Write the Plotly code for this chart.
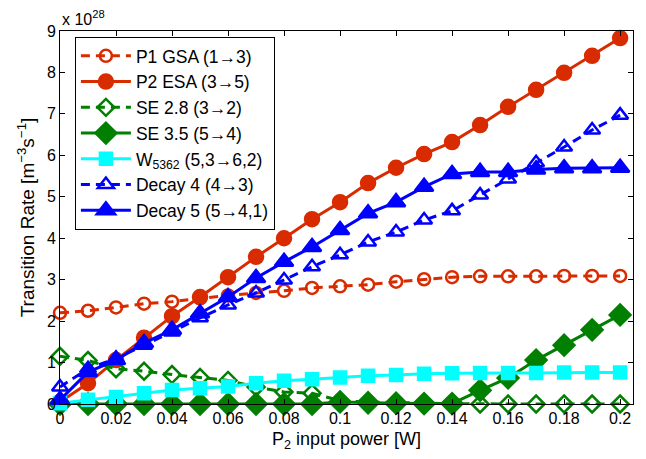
import plotly.graph_objects as go

x = [0, 0.01, 0.02, 0.03, 0.04, 0.05, 0.06, 0.07, 0.08, 0.09, 0.10,
     0.11, 0.12, 0.13, 0.14, 0.15, 0.16, 0.17, 0.18, 0.19, 0.20]

p1_gsa = [2.2, 2.25, 2.33, 2.42, 2.47, 2.55, 2.62, 2.68, 2.73, 2.8, 2.84,
          2.88, 2.95, 3.01, 3.06, 3.08, 3.08, 3.08, 3.09, 3.09, 3.09]
p2_esa = [0.05, 0.5, 1.06, 1.6, 2.12, 2.58, 3.06, 3.55, 4.0, 4.46, 4.87,
          5.33, 5.7, 6.03, 6.32, 6.73, 7.17, 7.58, 7.99, 8.4, 8.83]
se28 = [1.15, 1.05, 0.85, 0.79, 0.71, 0.64, 0.57, 0.41, 0.29, 0.26, 0.08,
        0.05, 0.03, 0.02, 0.01, 0.0, 0.0, 0.0, 0.0, 0.0, 0.0]
se35 = [0.0, 0.0, 0.0, 0.0, 0.0, 0.0, 0.0, 0.0, 0.0, 0.0, 0.05,
        0.03, 0.02, 0.01, 0.01, 0.33, 0.63, 1.06, 1.42, 1.79, 2.15]
w5362 = [0.02, 0.1, 0.17, 0.26, 0.34, 0.38, 0.42, 0.5, 0.56, 0.6, 0.64,
         0.68, 0.7, 0.73, 0.74, 0.75, 0.75, 0.75, 0.76, 0.76, 0.76]
decay4 = [0.41, 0.85, 1.1, 1.42, 1.74, 2.08, 2.39, 2.68, 2.99, 3.31, 3.6,
          3.91, 4.15, 4.44, 4.66, 5.04, 5.43, 5.82, 6.2, 6.61, 6.97]
decay5 = [0.1, 0.77, 1.06, 1.47, 1.79, 2.19, 2.58, 3.04, 3.43, 3.79, 4.2,
          4.6, 4.87, 5.24, 5.55, 5.6, 5.6, 5.66, 5.69, 5.69, 5.7]

RED = "#D92B00"
GREEN = "#007F00"
CYAN = "#00FFFF"
BLUE = "#0000FF"

series = [
    ("P1 GSA (1→3)", p1_gsa, RED, "dash", "circle-open", 12),
    ("P2 ESA (3→5)", p2_esa, RED, "solid", "circle", 14),
    ("SE 2.8 (3→2)", se28, GREEN, "dash", "diamond-open", 13),
    ("SE 3.5 (5→4)", se35, GREEN, "solid", "diamond", 16),
    ("W<sub>5362</sub> (5,3→6,2)", w5362, CYAN, "solid", "square", 12),
    ("Decay 4 (4→3)", decay4, BLUE, "dash", "triangle-up-open", 14),
    ("Decay 5 (5→4,1)", decay5, BLUE, "solid", "triangle-up", 16),
]

fig = go.Figure()
for name, y, color, dash, sym, size in series:
    fig.add_trace(go.Scatter(
        x=x, y=y, name=name, mode="lines+markers",
        line=dict(color=color, width=3, dash="9px,6px" if dash == "dash" else "solid"),
        marker=dict(symbol=sym, size=size, color=color,
                    line=dict(color=color, width=2.5)),
        cliponaxis=False,
    ))

font_family = "Liberation Sans, Arial, sans-serif"
fig.update_layout(
    width=646, height=459,
    margin=dict(l=60, r=13, t=31, b=55),
    paper_bgcolor="white", plot_bgcolor="white",
    font=dict(family=font_family, size=16, color="black"),
    showlegend=True,
    legend=dict(
        x=0.026, y=0.984, xanchor="left", yanchor="top",
        bordercolor="black", borderwidth=1, bgcolor="white",
        font=dict(size=17.5), itemwidth=50,
    ),
    xaxis=dict(
        range=[0, 0.2046], tickmode="array",
        tickvals=[0, 0.02, 0.04, 0.06, 0.08, 0.1, 0.12, 0.14, 0.16, 0.18, 0.2],
        ticktext=["0", "0.02", "0.04", "0.06", "0.08", "0.1", "0.12", "0.14", "0.16", "0.18", "0.2"],
        ticks="inside", ticklen=5, tickcolor="black",
        showline=True, linecolor="black", linewidth=1, mirror="ticks",
        showgrid=False, zeroline=False,
        tickfont=dict(size=16),
        title=dict(text="P<sub>2</sub> input power [W]", font=dict(size=18), standoff=6),
    ),
    yaxis=dict(
        range=[0, 9], tickmode="array", tickvals=list(range(10)),
        ticks="inside", ticklen=5, tickcolor="black",
        showline=True, linecolor="black", linewidth=1, mirror="ticks",
        showgrid=False, zeroline=False,
        tickfont=dict(size=16),
        title=dict(text="Transition Rate [m<sup>−3</sup>s<sup>−1</sup>]", font=dict(size=19), standoff=7),
    ),
    annotations=[dict(
        text="x 10<sup>28</sup>", xref="paper", yref="paper",
        x=0.0, y=1.0, xanchor="left", yanchor="bottom", yshift=1,
        showarrow=False, font=dict(size=16),
    )],
)

fig.write_html("out.html")
